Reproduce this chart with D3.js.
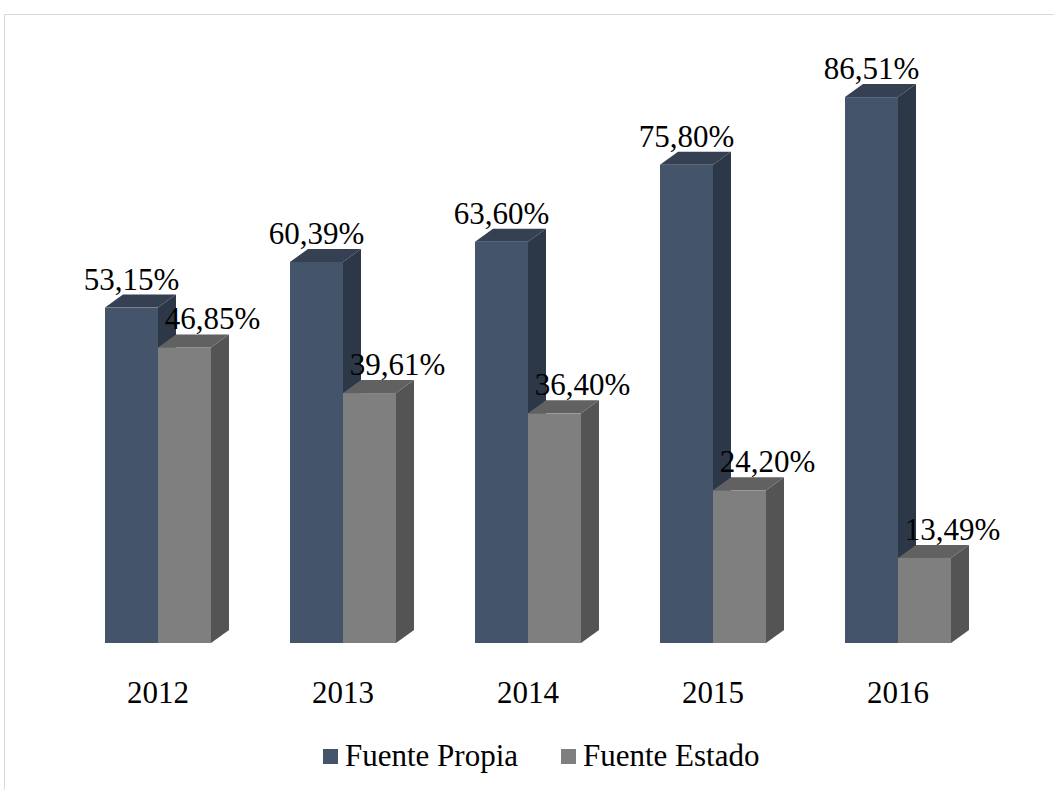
<!DOCTYPE html>
<html>
  <head>
    <meta charset="utf-8">
    <title>Fuente Propia vs Fuente Estado</title>
    <style>
      body { margin: 0; background: #fff; }
    </style>
  </head>
  <body>
    <script src="https://d3js.org/d3.v7.min.js"></script>
    <script>
      const years = ["2012", "2013", "2014", "2015", "2016"];
      const series = ["Fuente Propia", "Fuente Estado"];
      const propia = [53.15, 60.39, 63.60, 75.80, 86.51];
      const estado = [46.85, 39.61, 36.40, 24.20, 13.49];

      const width = 1054;
      const height = 790;
      const depthX = 18, depthY = -13;
      const font = "'Liberation Serif', 'Times New Roman', serif";

      // front / top / side colours per series
      const colors = {
        "Fuente Propia": { front: "#44546a", top: "#354152", side: "#2c3747" },
        "Fuente Estado": { front: "#7f7f7f", top: "#616161", side: "#545454" }
      };

      const svg = d3.select("body")
        .append("svg")
        .attr("width", width)
        .attr("height", height)
        .style("font-family", font);

      // outer frame
      svg.append("rect")
        .attr("x", 4.5).attr("y", 14.5)
        .attr("width", 1100).attr("height", 800)
        .attr("fill", "none")
        .attr("stroke", "#d9d9d9");

      const x0 = d3.scaleBand()
        .domain(years)
        .range([65.5, 990.5]);

      const pairWidth = 106;
      const x1 = d3.scaleBand()
        .domain(series)
        .range([0, pairWidth]);

      const y = d3.scaleLinear()
        .domain([0, 100])
        .range([643, 12]);

      const data = [];
      years.forEach((yr, i) => {
        data.push({ year: yr, s: series[0], v: propia[i] });
        data.push({ year: yr, s: series[1], v: estado[i] });
      });

      const fmt = v => d3.format(".2f")(v).replace(".", ",") + "%";

      const bx = d => x0(d.year) + (x0.bandwidth() - pairWidth) / 2 + x1(d.s);
      const bw = x1.bandwidth();

      const bars = svg.append("g")
        .selectAll("g")
        .data(data)
        .join("g");

      // side face
      bars.append("path")
        .attr("fill", d => colors[d.s].side)
        .attr("d", d => {
          const xr = bx(d) + bw, yt = y(d.v), yb = y(0);
          return `M${xr},${yt}L${xr + depthX},${yt + depthY}L${xr + depthX},${yb + depthY}L${xr},${yb}Z`;
        });

      // top face
      bars.append("path")
        .attr("fill", d => colors[d.s].top)
        .attr("d", d => {
          const xl = bx(d), xr = xl + bw, yt = y(d.v);
          return `M${xl},${yt}L${xl + depthX},${yt + depthY}L${xr + depthX},${yt + depthY}L${xr},${yt}Z`;
        });

      // front face
      bars.append("rect")
        .attr("x", d => bx(d))
        .attr("y", d => y(d.v))
        .attr("width", bw)
        .attr("height", d => y(0) - y(d.v))
        .attr("fill", d => colors[d.s].front);

      // value labels
      svg.append("g")
        .selectAll("text")
        .data(data)
        .join("text")
        .attr("font-family", font)
        .attr("font-size", 31)
        .attr("text-anchor", "middle")
        .attr("x", d => bx(d) + bw / 2 + (d.s === series[1] ? 28 : 0))
        .attr("y", d => y(d.v) - 18)
        .text(d => fmt(d.v));

      // category labels
      svg.append("g")
        .selectAll("text")
        .data(years)
        .join("text")
        .attr("font-family", font)
        .attr("font-size", 31)
        .attr("text-anchor", "middle")
        .attr("x", d => x0(d) + x0.bandwidth() / 2)
        .attr("y", 703)
        .text(d => d);

      // legend
      const legend = svg.append("g");
      const legendX = [323, 561];
      series.forEach((s, i) => {
        legend.append("rect")
          .attr("x", legendX[i]).attr("y", 749)
          .attr("width", 15).attr("height", 15)
          .attr("fill", colors[s].front);
        legend.append("text")
          .attr("font-family", font)
          .attr("font-size", 31)
          .attr("x", legendX[i] + 22)
          .attr("y", 766)
          .text(s);
      });
    </script>
  </body>
</html>
